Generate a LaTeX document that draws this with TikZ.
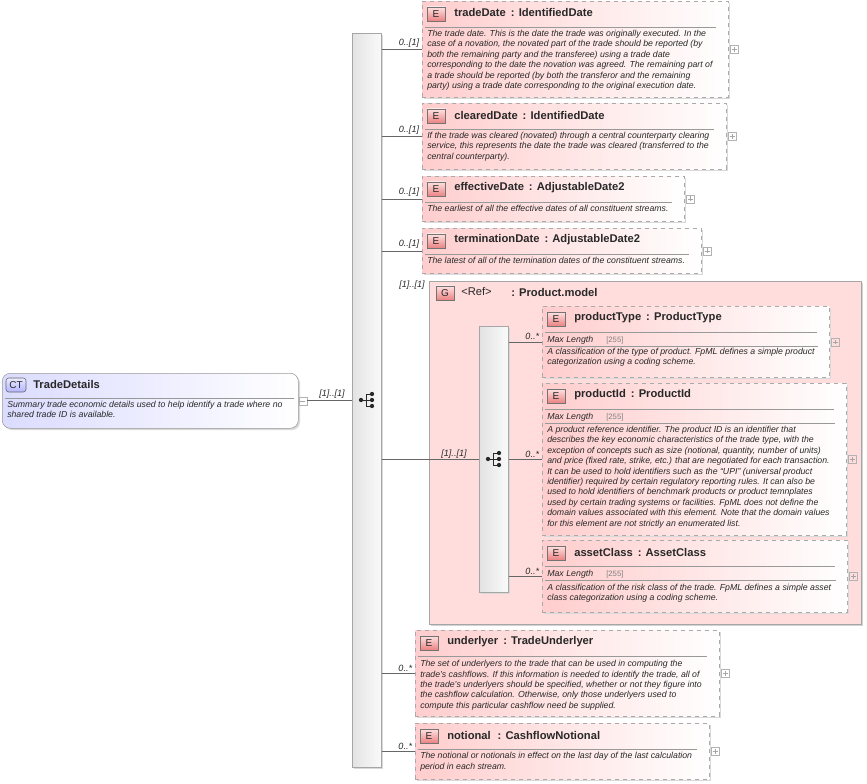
\documentclass[tikz,border=0pt]{standalone}
\usepackage{fontspec}
\setmainfont{Liberation Sans}
\begin{document}
\definecolor{pinkA}{RGB}{255,205,205}
\definecolor{grpfill}{RGB}{255,221,221}
\definecolor{bord}{RGB}{170,170,170}
\definecolor{txt}{RGB}{40,40,40}
\definecolor{bdgtop}{RGB}{255,225,225}
\definecolor{bdgbot}{RGB}{235,130,130}
\tikzset{
 elem/.style={draw=bord,dashed,left color=pinkA,right color=white,inner sep=0pt,line width=0.6pt},
 badge/.style={draw=gray!90!black,top color=bdgtop,bottom color=bdgbot,minimum width=13.5pt,minimum height=10.5pt,inner sep=0pt,font=\fontsize{7.5pt}{8pt}\selectfont,text=txt},
 ttl/.style={font=\fontsize{8.4pt}{9pt}\selectfont\bfseries,text=txt,inner sep=0pt},
 desc/.style={font=\fontsize{6.55pt}{7.8pt}\selectfont\itshape,text=txt,align=left,inner sep=0pt},
 rulec/.style={draw=gray!80,line width=0.5pt},
 plusb/.style={draw=gray!60,minimum size=6pt,inner sep=0pt,path picture={\draw[gray!70,line width=0.4pt] ([xshift=1.2pt]path picture bounding box.west)--([xshift=-1.2pt]path picture bounding box.east) ([yshift=1.2pt]path picture bounding box.south)--([yshift=-1.2pt]path picture bounding box.north);}},
 card/.style={font=\fontsize{6.8pt}{7pt}\selectfont\itshape,text=txt,inner sep=0pt},
 conn/.style={draw=gray!80!black,line width=0.5pt},
 bar/.style={draw=gray!70,left color=gray!22,right color=gray!4,inner sep=0pt,line width=0.5pt},
 ml/.style={font=\fontsize{6.6pt}{7pt}\selectfont\itshape,text=txt,inner sep=0pt},
 mlv/.style={font=\fontsize{5.8pt}{7pt}\selectfont,text=gray,inner sep=0pt},
}
\newcommand\elbox[6]{%
 \fill[gray!30] (#2+2,#3+2) rectangle (#4+2,#5+2);
 \node[elem,anchor=north west,minimum width={(#4-#2)*0.75pt},minimum height={(#5-#3)*0.75pt}] (#1) at (#2,#3) {};
 \node[badge] (#1b) at (#2+14,#3+13) {E};
 \node[ttl,anchor=west] (#1t) at (#2+32,#3+12) {#6};
 \draw[rulec] (#2+3,#3+26) -- (#4-12,#3+26);
 \node[plusb,anchor=west] (#1p) at ([xshift=0.8pt]#1.east) {};
}
\newcommand\seqicon[2]{%
 \draw[txt,line width=0.7pt] (#1-6,#2)--(#1-1,#2) (#1-1,#2-6)--(#1-1,#2+6)
   (#1-1,#2-6)--(#1+5,#2-6) (#1-1,#2)--(#1+5,#2) (#1-1,#2+6)--(#1+5,#2+6);
 \fill[txt] (#1-6,#2) circle[radius=1.6pt] (#1+5,#2-6) circle[radius=1.6pt] (#1+5,#2) circle[radius=1.6pt] (#1+5,#2+6) circle[radius=1.6pt];
}
\begin{tikzpicture}[x=0.75pt,y=-0.75pt]
\useasboundingbox (0,0) rectangle (867,784);
% CT
\fill[gray!30,rounded corners=6pt] (4,375) rectangle (300,430);
\node[draw=gray!80,left color=blue!14,right color=white,rounded corners=6pt,anchor=north west,minimum width={296*0.75pt},minimum height={55*0.75pt},inner sep=0pt] (ct) at (2,373) {};
\node[draw=gray!80!black,top color=blue!8,bottom color=blue!30,rounded corners=2pt,minimum width=15pt,minimum height=10.5pt,inner sep=0pt,font=\fontsize{7.5pt}{8pt}\selectfont,text=txt] (ctb) at (16,385) {CT};
\node[ttl,anchor=west] (ctt) at (33,384) {TradeDetails};
\draw[rulec] (5,398)--(294,398);
\node[desc,anchor=north west] (ctd) at (7,401) {Summary trade economic details used to help identify a trade where no\\shared trade ID is available.};
\node[draw=gray!60,minimum size=6pt,inner sep=0pt,anchor=west] (ctm) at (ct.east) {};
\draw[gray!70,line width=0.4pt] ([xshift=1.2pt]ctm.west)--([xshift=-1.2pt]ctm.east);
% main bar
\fill[gray!30] (354,35) rectangle (383,769);
\node[bar,anchor=north west,minimum width={29*0.75pt},minimum height={734*0.75pt}] (bar) at (352,33) {};
\seqicon{367}{400}
\draw[conn] (ctm.east) -- (bar.west |- ctm.east);
\node[card] at (332,394) {[1]..[1]};
% elements
\elbox{td}{422}{1}{728}{97}{tradeDate\, : IdentifiedDate}
\node[desc,anchor=north west] at (427,30) {The trade date. This is the date the trade was originally executed. In the\\case of a novation, the novated part of the trade should be reported (by\\both the remaining party and the transferee) using a trade date\\corresponding to the date the novation was agreed. The remaining part of\\a trade should be reported (by both the transferor and the remaining\\party) using a trade date corresponding to the original execution date.};
\elbox{cd}{422}{103}{726}{169}{clearedDate\, : IdentifiedDate}
\node[desc,anchor=north west] at (427,132) {If the trade was cleared (novated) through a central counterparty clearing\\service, this represents the date the trade was cleared (transferred to the\\central counterparty).};
\elbox{ed}{422}{176}{684}{221}{effectiveDate\, : AdjustableDate2}
\node[desc,anchor=north west] at (427,205) {The earliest of all the effective dates of all constituent streams.};
\elbox{tmd}{422}{228}{701}{273}{terminationDate\, : AdjustableDate2}
\node[desc,anchor=north west] at (427,257) {The latest of all of the termination dates of the constituent streams.};
\foreach \n in {td,cd,ed,tmd}{\draw[conn] (bar.east |- \n.west) -- (\n.west);
  \node[card,anchor=south east] at ([xshift=-2pt,yshift=1.5pt]\n.west) {0..[1]};}
% group
\fill[gray!35] (431,283) rectangle (863,626);
\node[draw=gray!70,fill=grpfill,anchor=north west,minimum width={432*0.75pt},minimum height={343*0.75pt},inner sep=0pt] (grp) at (429,281) {};
\node[card] at (412,285) {[1]..[1]};
\node[badge] (grpb) at (445,293) {G};
\node[ttl,anchor=west,font=\fontsize{8.4pt}{9pt}\selectfont] (grpr) at (461,292) {<Ref>};
\node[ttl,anchor=west] (grpt) at (511,292) {: Product.model};
\fill[gray!30] (481,328) rectangle (510,594);
\node[bar,anchor=north west,minimum width={29*0.75pt},minimum height={266*0.75pt}] (ibar) at (479,326) {};
\seqicon{494}{459}
\draw[conn] (bar.east |- ibar.west) -- (ibar.west);
\node[card] at (454,454) {[1]..[1]};
\elbox{pt}{542}{306}{829}{377}{productType\, : ProductType}
\elbox{pid}{542}{383}{846}{535}{productId\, : ProductId}
\elbox{ac}{542}{540}{847}{612}{assetClass\, : AssetClass}
\foreach \n/\y in {pt/306,pid/383,ac/540}{
  \node[ml,anchor=west] at (547,\y+34) {Max Length};
  \node[mlv,anchor=west] at (606,\y+34) {[255]};
  \draw[rulec] (545,\y+40) -- ([xshift=-9pt]\n.east |- 0,\y+40);
  \draw[conn] (ibar.east |- \n.west) -- (\n.west);
  \node[card,anchor=south east] at ([xshift=-2pt,yshift=1.5pt]\n.west) {0..*};}
\node[desc,anchor=north west] at (547,348) {A classification of the type of product. FpML defines a simple product\\categorization using a coding scheme.};
\node[desc,anchor=north west] at (547,426) {A product reference identifier. The product ID is an identifier that\\describes the key economic characteristics of the trade type, with the\\exception of concepts such as size (notional, quantity, number of units)\\and price (fixed rate, strike, etc.) that are negotiated for each transaction.\\It can be used to hold identifiers such as the ``UPI'' (universal product\\identifier) required by certain regulatory reporting rules. It can also be\\used to hold identifiers of benchmark products or product temnplates\\used by certain trading systems or facilities. FpML does not define the\\domain values associated with this element. Note that the domain values\\for this element are not strictly an enumerated list.};
\node[desc,anchor=north west] at (547,584) {A classification of the risk class of the trade. FpML defines a simple asset\\class categorization using a coding scheme.};
% underlyer, notional
\elbox{ul}{415}{630}{719}{716}{underlyer\, : TradeUnderlyer}
\node[desc,anchor=north west] at (420,660) {The set of underlyers to the trade that can be used in computing the\\trade's cashflows. If this information is needed to identify the trade, all of\\the trade's underlyers should be specified, whether or not they figure into\\the cashflow calculation. Otherwise, only those underlyers used to\\compute this particular cashflow need be supplied.};
\elbox{nt}{415}{723}{709}{779}{notional\,\, : CashflowNotional}
\node[desc,anchor=north west] at (420,752) {The notional or notionals in effect on the last day of the last calculation\\period in each stream.};
\foreach \n in {ul,nt}{\draw[conn] (bar.east |- \n.west) -- (\n.west);
  \node[card,anchor=south east] at ([xshift=-2pt,yshift=1.5pt]\n.west) {0..*};}
\end{tikzpicture}
\end{document}
